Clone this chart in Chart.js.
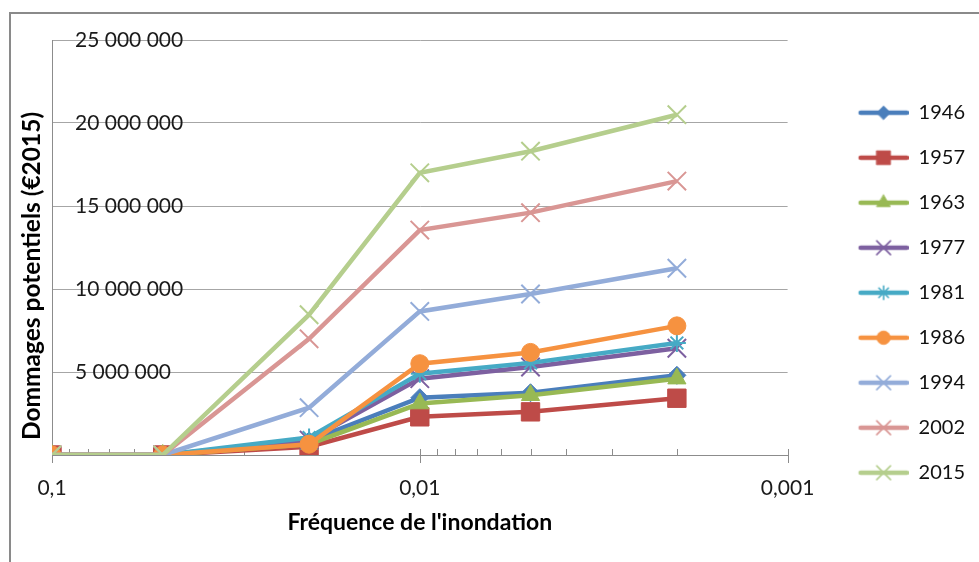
<!DOCTYPE html>
<html lang="fr">
<head>
<meta charset="utf-8">
<title>Dommages potentiels</title>
<script src="https://cdn.jsdelivr.net/npm/chart.js@4.4.1/dist/chart.umd.min.js"></script>
<style>
  html, body { margin: 0; padding: 0; background: #fff; }
  #wrap { position: relative; width: 979px; height: 562px; overflow: hidden; }
  #frame { position: absolute; left: 9px; top: 12px; width: 1000px; height: 600px;
           border-top: 2px solid #8a8a8a; border-left: 2px solid #8a8a8a; pointer-events: none; }
</style>
</head>
<body>
<div id="wrap">
  <canvas id="chart"></canvas>
  <div id="frame"></div>
</div>
<script>
// fréquences de l'inondation (axe x, log inversé)
const frequences = [0.1, 0.05, 0.02, 0.01, 0.005, 0.002];

const annees = ['1946', '1957', '1963', '1977', '1981', '1986', '1994', '2002', '2015'];

// dommages potentiels (€2015)
const d1946 = [0, 0, 850000, 3450000, 3750000, 4800000];
const d1957 = [0, 0, 500000, 2300000, 2600000, 3420000];
const d1963 = [0, 0, 650000, 3100000, 3600000, 4600000];
const d1977 = [0, 0, 900000, 4600000, 5300000, 6430000];
const d1981 = [0, 0, 1050000, 4900000, 5550000, 6750000];
const d1986 = [0, 0, 650000, 5500000, 6180000, 7780000];
const d1994 = [0, 0, 2850000, 8650000, 9700000, 11250000];
const d2002 = [0, 0, 7000000, 13550000, 14600000, 16500000];
const d2015 = [0, 0, 8450000, 17000000, 18300000, 20500000];
const series = [d1946, d1957, d1963, d1977, d1981, d1986, d1994, d2002, d2015];

const yTicks = [0, 5000000, 10000000, 15000000, 20000000, 25000000];
const xTicks = [0.1, 0.01, 0.001];

// style des séries
const couleurs = ['#4a7ebb', '#be4b48', '#98b954', '#7d60a0', '#46aac5', '#f69240', '#93acd9', '#d99694', '#b5ce8d'];
const marqueurs = ['rectRot', 'rect', 'triangle', 'crossRot', 'star', 'circle', 'crossRot', 'crossRot', 'crossRot'];
const rayons = [9, 13, 10.5, 13, 9, 9, 13, 13, 13];

const police = 'Lato, "Open Sans", sans-serif';

function bordure(i) {
  return (marqueurs[i] === 'crossRot' || marqueurs[i] === 'star') ? 2 : 1;
}

// petite image ligne + marqueur pour la légende
function iconeLegende(i) {
  const c = document.createElement('canvas');
  c.width = 96; c.height = 28;
  const g = c.getContext('2d');
  g.strokeStyle = couleurs[i];
  g.lineWidth = 4.5;
  g.lineCap = 'round';
  g.beginPath(); g.moveTo(48, 14); g.lineTo(94, 14); g.stroke();
  g.fillStyle = couleurs[i];
  g.lineWidth = bordure(i) * 0.8;
  Chart.helpers.drawPoint(g, { pointStyle: marqueurs[i], radius: rayons[i] * 0.75, rotation: 0, borderWidth: bordure(i) }, 71, 14);
  return c;
}

const datasets = annees.map((a, i) => ({
  label: a,
  data: frequences.map((f, k) => ({ x: f, y: series[i][k] })),
  borderColor: couleurs[i],
  backgroundColor: couleurs[i],
  borderWidth: 4.5,
  tension: 0,
  pointStyle: marqueurs[i],
  pointRadius: rayons[i],
  pointHoverRadius: rayons[i],
  pointBorderWidth: bordure(i),
  pointBackgroundColor: couleurs[i],
  pointBorderColor: couleurs[i],
  order: -i
}));

// titre vertical et graduations secondaires de l'axe x
const decor = {
  id: 'decor',
  beforeDatasetsDraw(chart) {
    const ctx = chart.ctx, x = chart.scales.x, area = chart.chartArea;
    ctx.save();
    ctx.strokeStyle = '#8c8c8c';
    ctx.lineWidth = 1;
    ctx.beginPath();
    for (let e = -3; e < -1; e++) {
      for (let m = 2; m <= 9; m++) {
        const px = Math.round(x.getPixelForValue(m * Math.pow(10, e))) + 0.5;
        ctx.moveTo(px, area.bottom - 6); ctx.lineTo(px, area.bottom);
      }
    }
    xTicks.forEach(v => {
      const px = Math.round(x.getPixelForValue(v)) + 0.5;
      ctx.moveTo(px, area.bottom - 6); ctx.lineTo(px, area.bottom + 8);
    });
    ctx.stroke();
    ctx.restore();
  },
  afterDraw(chart) {
    const ctx = chart.ctx, area = chart.chartArea;
    ctx.save();
    ctx.translate(area.left - 20, area.bottom - 15);
    ctx.rotate(-Math.PI / 2);
    ctx.font = 'bold 24.5px ' + police;
    ctx.fillStyle = '#000';
    ctx.textAlign = 'left';
    ctx.textBaseline = 'middle';
    ctx.fillText('Dommages potentiels (€2015)', 0, 0);
    ctx.restore();
  }
};

new Chart(document.getElementById('chart'), {
  type: 'line',
  data: { datasets: datasets },
  plugins: [decor],
  options: {
    responsive: true,
    maintainAspectRatio: false,
    animation: false,
    events: [],
    layout: { padding: { left: 6, top: 40, right: 4, bottom: 16.6 } },
    scales: {
      x: {
        type: 'logarithmic',
        reverse: true,
        min: 0.001,
        max: 0.1,
        afterBuildTicks: s => { s.ticks = xTicks.map(v => ({ value: v })); },
        ticks: {
          autoSkip: false, maxRotation: 0, padding: 21,
          font: { family: police, size: 21 }, color: '#1a1a1a',
          callback: v => String(v).replace('.', ',')
        },
        grid: { drawOnChartArea: false, drawTicks: false },
        border: { display: true, color: '#8c8c8c', width: 1 },
        title: {
          display: true, text: "Fréquence de l'inondation", color: '#000',
          font: { family: police, size: 23, weight: 'bold' },
          padding: { top: -13, bottom: 8.6 }
        }
      },
      y: {
        min: 0,
        max: 25000000,
        afterBuildTicks: s => { s.ticks = yTicks.map(v => ({ value: v })); },
        ticks: {
          mirror: true, padding: 23,
          font: { family: police, size: 21 }, color: '#1a1a1a',
          callback: v => v === 0 ? '' : String(v).replace(/\B(?=(\d{3})+(?!\d))/g, ' ')
        },
        grid: { color: '#a6a6a6', drawTicks: false },
        border: { display: true, color: '#8c8c8c', width: 1 }
      }
    },
    plugins: {
      tooltip: { enabled: false },
      legend: {
        position: 'right',
        align: 'center',
        labels: {
          usePointStyle: true,
          pointStyleWidth: 96,
          padding: 25,
          color: '#111',
          font: { family: police, size: 20 },
          generateLabels: chart => chart.data.datasets.map((ds, i) => ({
            text: ds.label,
            pointStyle: iconeLegende(i),
            lineWidth: 0,
            fillStyle: 'transparent',
            strokeStyle: 'transparent',
            fontColor: '#111',
            hidden: false,
            datasetIndex: i
          }))
        }
      }
    }
  }
});
</script>
</body>
</html>
